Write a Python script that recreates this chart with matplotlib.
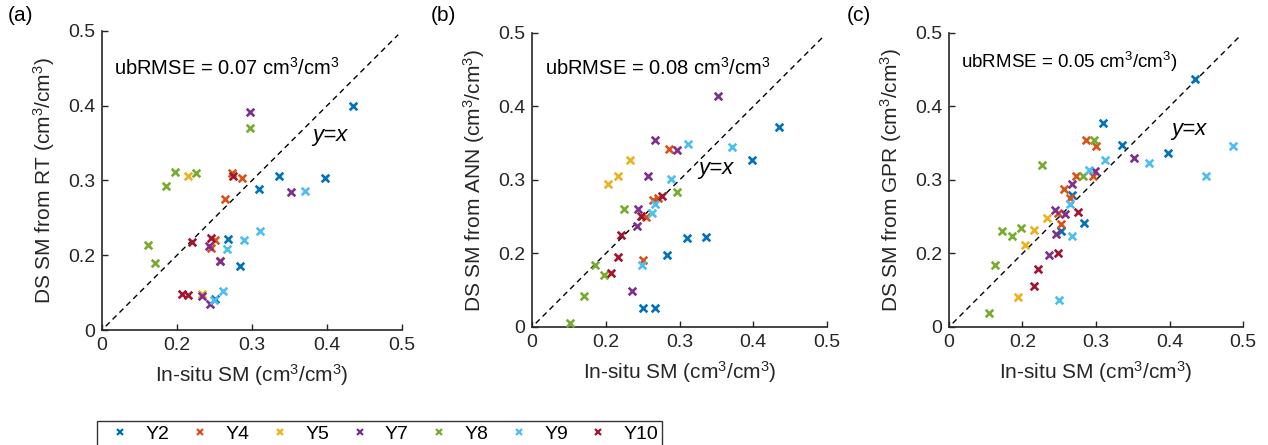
import matplotlib
matplotlib.use("Agg")
import matplotlib.pyplot as plt
from matplotlib.lines import Line2D

plt.rcParams["font.family"] = ["Liberation Sans", "DejaVu Sans"]
plt.rcParams["mathtext.fontset"] = "custom"
plt.rcParams["mathtext.rm"] = "Liberation Sans"
plt.rcParams["mathtext.it"] = "Liberation Sans:italic"

# Site-years and MATLAB default colour order
years = ["Y2", "Y4", "Y5", "Y7", "Y8", "Y9", "Y10"]
colors = ["#0072BD", "#D95319", "#EDB120", "#7E2F8E", "#77AC30", "#4DBEEE", "#A2142F"]

# Axis ticks (the lower limit carries the label "0")
tick_values = [0.1, 0.2, 0.3, 0.4, 0.5]
tick_labels = ["0", "0.2", "0.3", "0.4", "0.5"]

# (a) RT downscaling: in-situ SM vs downscaled SM
rt_insitu = {
    "Y2": [0.435, 0.336, 0.398, 0.310, 0.268, 0.284, 0.251],
    "Y4": [0.274, 0.287, 0.264, 0.251, 0.246, 0.257],
    "Y5": [0.215, 0.234],
    "Y7": [0.298, 0.352, 0.243, 0.258, 0.234, 0.244],
    "Y8": [0.297, 0.198, 0.225, 0.185, 0.162, 0.171],
    "Y9": [0.371, 0.311, 0.289, 0.267, 0.262, 0.250],
    "Y10": [0.275, 0.220, 0.246, 0.207, 0.215],
}
rt_ds = {
    "Y2": [0.399, 0.306, 0.303, 0.288, 0.222, 0.185, 0.141],
    "Y4": [0.310, 0.303, 0.275, 0.221, 0.210, 0.192],
    "Y5": [0.306, 0.148],
    "Y7": [0.391, 0.284, 0.212, 0.192, 0.146, 0.135],
    "Y8": [0.370, 0.312, 0.310, 0.292, 0.214, 0.189],
    "Y9": [0.286, 0.233, 0.221, 0.208, 0.152, 0.140],
    "Y10": [0.306, 0.218, 0.223, 0.148, 0.147],
}

# (b) ANN downscaling
ann_insitu = {
    "Y2": [0.435, 0.398, 0.310, 0.336, 0.283, 0.250, 0.267],
    "Y4": [0.286, 0.264, 0.271, 0.255, 0.250],
    "Y5": [0.233, 0.216, 0.203],
    "Y7": [0.352, 0.267, 0.297, 0.257, 0.244, 0.243, 0.235],
    "Y8": [0.297, 0.225, 0.185, 0.197, 0.171, 0.152],
    "Y9": [0.311, 0.371, 0.289, 0.267, 0.263, 0.249],
    "Y10": [0.276, 0.248, 0.220, 0.216, 0.207],
}
ann_ds = {
    "Y2": [0.372, 0.327, 0.221, 0.223, 0.198, 0.126, 0.126],
    "Y4": [0.342, 0.273, 0.276, 0.250, 0.191],
    "Y5": [0.327, 0.305, 0.295],
    "Y7": [0.414, 0.354, 0.341, 0.306, 0.260, 0.238, 0.149],
    "Y8": [0.283, 0.260, 0.184, 0.171, 0.142, 0.106],
    "Y9": [0.349, 0.345, 0.301, 0.267, 0.255, 0.184],
    "Y10": [0.278, 0.251, 0.225, 0.195, 0.173],
}

# (c) GPR downscaling
gpr_insitu = {
    "Y2": [0.435, 0.310, 0.336, 0.398, 0.268, 0.284, 0.252],
    "Y4": [0.287, 0.300, 0.273, 0.296, 0.256, 0.265, 0.248, 0.252],
    "Y5": [0.234, 0.216, 0.204, 0.194],
    "Y7": [0.352, 0.298, 0.268, 0.244, 0.258, 0.245, 0.236],
    "Y8": [0.297, 0.226, 0.283, 0.172, 0.198, 0.186, 0.163, 0.154],
    "Y9": [0.487, 0.312, 0.372, 0.450, 0.290, 0.264, 0.267, 0.250],
    "Y10": [0.276, 0.248, 0.221, 0.216],
}
gpr_ds = {
    "Y2": [0.437, 0.377, 0.348, 0.337, 0.279, 0.241, 0.230],
    "Y4": [0.355, 0.346, 0.305, 0.305, 0.288, 0.276, 0.255, 0.240],
    "Y5": [0.248, 0.232, 0.212, 0.141],
    "Y7": [0.330, 0.312, 0.295, 0.259, 0.254, 0.227, 0.198],
    "Y8": [0.355, 0.320, 0.305, 0.230, 0.234, 0.224, 0.185, 0.119],
    "Y9": [0.346, 0.327, 0.323, 0.306, 0.314, 0.267, 0.224, 0.137],
    "Y10": [0.257, 0.201, 0.179, 0.156],
}

panels = [
    dict(tag="(a)", x=rt_insitu, y=rt_ds, ylabel="DS SM from RT (cm$^3$/cm$^3$)",
         note="ubRMSE = 0.07 cm$^3$/cm$^3$", note_xy=(0.116, 0.451), note_size=14.5,
         yx_xy=(0.381, 0.360), rect=[0.0804, 0.2584, 0.2366, 0.672], tag_x=0.006),
    dict(tag="(b)", x=ann_insitu, y=ann_ds, ylabel="DS SM from ANN (cm$^3$/cm$^3$)",
         note="ubRMSE = 0.08 cm$^3$/cm$^3$", note_xy=(0.118, 0.452), note_size=14.5,
         yx_xy=(0.326, 0.316), rect=[0.4196, 0.2652, 0.2326, 0.6607], tag_x=0.340),
    dict(tag="(c)", x=gpr_insitu, y=gpr_ds, ylabel="DS SM from GPR (cm$^3$/cm$^3$)",
         note="ubRMSE = 0.05 cm$^3$/cm$^3$)", note_xy=(0.116, 0.460), note_size=13.5,
         yx_xy=(0.403, 0.368), rect=[0.7484, 0.2652, 0.2319, 0.6607], tag_x=0.668),
]

fig = plt.figure(figsize=(12.68, 4.45), dpi=100)

for p in panels:
    ax = fig.add_axes(p["rect"])
    ax.plot([0.105, 0.495], [0.105, 0.495], linestyle=(0, (4, 3)), color="black",
            linewidth=1.0, zorder=1)
    for yr, col in zip(years, colors):
        ax.scatter(p["x"][yr], p["y"][yr], marker="x", s=30, color=col,
                   linewidths=1.9, zorder=3)
    ax.set_xlim(0.1, 0.5)
    ax.set_ylim(0.1, 0.5)
    ax.set_xticks(tick_values)
    ax.set_xticklabels(tick_labels)
    ax.set_yticks(tick_values)
    ax.set_yticklabels(tick_labels)
    ax.tick_params(direction="in", length=4, width=1.0, labelsize=14, colors="#262626",
                   pad=5)
    for side in ("top", "right"):
        ax.spines[side].set_visible(False)
    for side in ("left", "bottom"):
        ax.spines[side].set_linewidth(1.2)
        ax.spines[side].set_color("#262626")
    ax.set_xlabel("In-situ SM (cm$^3$/cm$^3$)", fontsize=15, color="#262626", labelpad=6)
    ax.set_ylabel(p["ylabel"], fontsize=15, color="#262626", labelpad=8)
    ax.text(p["note_xy"][0], p["note_xy"][1], p["note"], fontsize=p["note_size"],
            va="center", ha="left", color="black")
    ax.text(p["yx_xy"][0], p["yx_xy"][1], "y=x", fontsize=16, style="italic",
            va="center", ha="left", color="black")
    fig.text(p["tag_x"], 0.965, p["tag"], fontsize=15, va="center", ha="left")

# Shared legend along the bottom
handles = [Line2D([], [], linestyle="none", marker="x", markersize=5,
                  markeredgewidth=1.6, color=c) for c in colors]
leg = fig.legend(handles, years, loc="lower left", bbox_to_anchor=(0.0765, -0.004),
                 ncol=7, frameon=True, fancybox=False, fontsize=14,
                 handlelength=2.0, handletextpad=0.3, columnspacing=0.57,
                 borderpad=0.2, borderaxespad=0.0)
leg.get_frame().set_edgecolor("black")
leg.get_frame().set_linewidth(1.0)

fig.savefig("out.png", dpi=100)
